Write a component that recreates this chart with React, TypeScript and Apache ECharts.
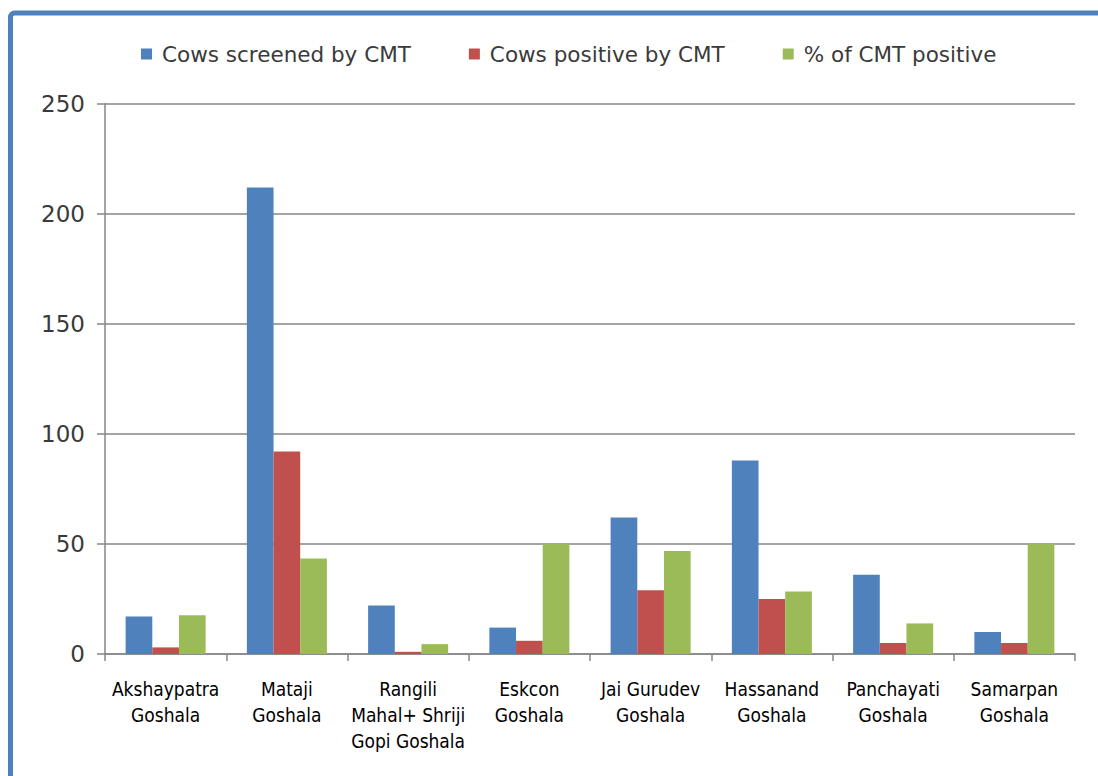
import React, { useEffect, useRef } from "react";
import * as echarts from "echarts";

const categories = [
  "Akshaypatra\nGoshala",
  "Mataji\nGoshala",
  "Rangili\nMahal+ Shriji\nGopi Goshala",
  "Eskcon\nGoshala",
  "Jai Gurudev\nGoshala",
  "Hassanand\nGoshala",
  "Panchayati\nGoshala",
  "Samarpan\nGoshala",
];

const cowsScreened = [17, 212, 22, 12, 62, 88, 36, 10];
const cowsPositive = [3, 92, 1, 6, 29, 25, 5, 5];
const percentPositive = [17.6, 43.4, 4.5, 50, 46.8, 28.4, 13.9, 50];

const seriesNames = ["Cows screened by CMT", "Cows positive by CMT", "% of CMT positive"];
const seriesColors = ["#4f81bd", "#c0504d", "#9bbb59"];

const yMin = 0;
const yMax = 250;
const yStep = 50;

export default function App() {
  const ref = useRef<HTMLDivElement>(null);

  useEffect(() => {
    if (!ref.current) return;
    const chart = echarts.init(ref.current, null, { renderer: "svg" });
    const values = [cowsScreened, cowsPositive, percentPositive];

    chart.setOption({
      animation: false,
      backgroundColor: "#ffffff",
      graphic: [
        {
          type: "rect",
          shape: { x: 10.5, y: 13, width: 1200, height: 900, r: 4 },
          style: { fill: "none", stroke: "#4f81bd", lineWidth: 5 },
          silent: true,
          z: 10,
        },
      ],
      legend: {
        top: 38,
        left: 136,
        itemWidth: 11,
        itemHeight: 11,
        itemGap: 58,
        icon: "rect",
        textStyle: {
          fontFamily: "DejaVu Sans",
          fontSize: 21.5,
          color: "#3a3a3a",
          padding: [0, 0, 0, 5],
        },
        data: seriesNames,
      },
      grid: {
        left: 105,
        right: 23,
        top: 104,
        bottom: 122,
        containLabel: false,
      },
      xAxis: {
        type: "category",
        data: categories,
        axisLine: { lineStyle: { color: "#868686", width: 1.5 } },
        axisTick: {
          show: true,
          length: 7,
          alignWithLabel: false,
          lineStyle: { color: "#868686", width: 1.5 },
        },
        axisLabel: {
          interval: 0,
          margin: 22,
          fontFamily: "Liberation Sans Narrow, DejaVu Sans Condensed, sans-serif",
          fontSize: 19,
          lineHeight: 26,
          color: "#000000",
        },
      },
      yAxis: {
        type: "value",
        min: yMin,
        max: yMax,
        interval: yStep,
        axisLine: { show: true, lineStyle: { color: "#868686", width: 1.5 } },
        axisTick: { show: true, length: 8, lineStyle: { color: "#868686", width: 1.5 } },
        splitLine: { lineStyle: { color: "#868686", width: 1.5 } },
        axisLabel: {
          margin: 20,
          fontFamily: "DejaVu Sans",
          fontSize: 23,
          color: "#3a3a3a",
        },
      },
      series: seriesNames.map((name, i) => ({
        name,
        type: "bar",
        data: values[i],
        barGap: "0%",
        barCategoryGap: "34%",
        itemStyle: { color: seriesColors[i] },
      })),
    });

    return () => chart.dispose();
  }, []);

  return (
    <div
      ref={ref}
      style={{ position: "fixed", left: 0, top: 0, width: 1098, height: 776 }}
    />
  );
}
